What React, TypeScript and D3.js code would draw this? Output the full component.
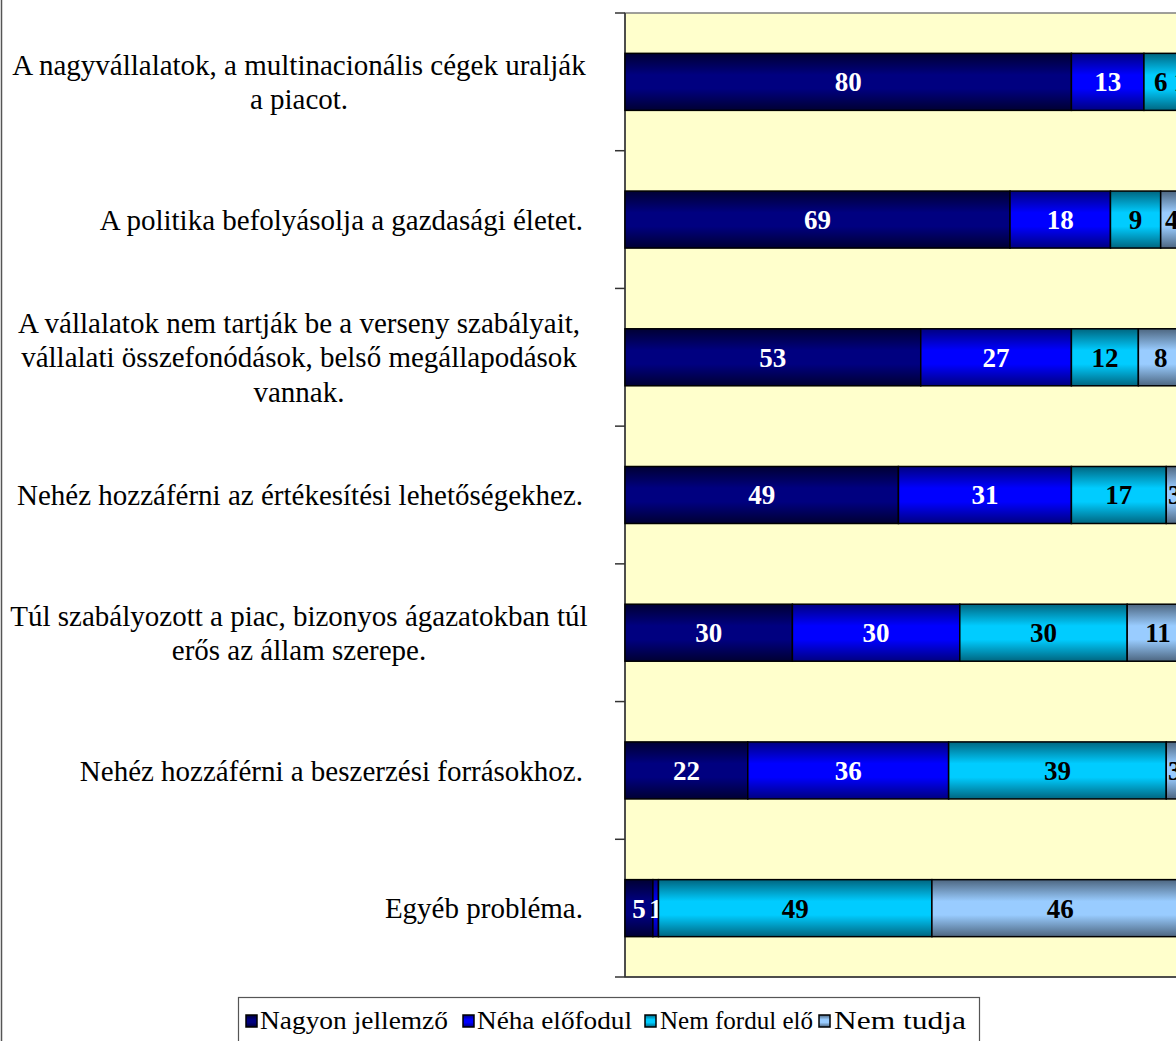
import React from "react";
import * as d3 from "d3";

const categories = [
  ["A nagyvállalatok, a multinacionális cégek uralják", "a piacot."],
  ["A politika befolyásolja a gazdasági életet."],
  ["A vállalatok nem tartják be a verseny szabályait,", "vállalati összefonódások, belső megállapodások", "vannak."],
  ["Nehéz hozzáférni az értékesítési lehetőségekhez."],
  ["Túl szabályozott a piac, bizonyos ágazatokban túl", "erős az állam szerepe."],
  ["Nehéz hozzáférni a beszerzési forrásokhoz."],
  ["Egyéb probléma."],
];

const seriesNames = ["Nagyon jellemző", "Néha előfodul", "Nem fordul elő", "Nem tudja"];
const nagyonJellemzo = [80, 69, 53, 49, 30, 22, 5];
const nehaElofordul = [13, 18, 27, 31, 30, 36, 1];
const nemFordulElo = [6, 9, 12, 17, 30, 39, 49];
const nemTudja = [1, 4, 8, 3, 11, 3, 46];

const seriesValues = [nagyonJellemzo, nehaElofordul, nemFordulElo, nemTudja];
const seriesColors = [
  { dark: "#000033", mid: "#000080" },
  { dark: "#000080", mid: "#0000FF" },
  { dark: "#006680", mid: "#00CCFF" },
  { dark: "#4D6680", mid: "#99CCFF" },
];
const labelColors = ["#FFFFFF", "#FFFFFF", "#000000", "#000000"];

const W = 1176;
const H = 1041;
const plotLeft = 625;
const plotRight = 1183;
const plotTop = 13;
const plotBottom = 977;

export default function App() {
  const x = d3.scaleLinear().domain([0, 100]).range([plotLeft, plotRight]);
  const idx = categories.map((_, i) => String(i));
  const y = d3
    .scaleBand<string>()
    .domain(idx)
    .range([plotTop, plotBottom])
    .paddingInner(0.586)
    .paddingOuter(0.293);
  const step = y.step();

  const stackData = categories.map((_, i) => {
    const row: Record<string, number> = {};
    seriesValues.forEach((s, k) => (row["s" + k] = s[i]));
    return row;
  });
  const stack = d3.stack<Record<string, number>>().keys(seriesValues.map((_, k) => "s" + k));
  const stacked = stack(stackData);

  const serif = "'Liberation Serif', 'Times New Roman', serif";

  const legendItems = [
    { sq: 246, tx: 260, w: 188 },
    { sq: 463, tx: 477, w: 155 },
    { sq: 645, tx: 660, w: 153 },
    { sq: 819, tx: 834, w: 132 },
  ];

  return (
    <svg
      width={W}
      height={H}
      style={{ position: "absolute", left: 0, top: 0, background: "#fff" }}
    >
      <defs>
        {seriesColors.map((c, k) => (
          <linearGradient key={k} id={"g" + k} x1="0" y1="0" x2="0" y2="1">
            <stop offset="0" stopColor={c.dark} />
            <stop offset="0.38" stopColor={c.mid} />
            <stop offset="0.62" stopColor={c.mid} />
            <stop offset="1" stopColor={c.dark} />
          </linearGradient>
        ))}
      </defs>
      <rect x={0} y={0} width={W} height={H} fill="#fff" />
      <line x1={1.5} y1={0} x2={1.5} y2={H} stroke="#555" strokeWidth={1.5} />

      <rect
        x={plotLeft}
        y={plotTop}
        width={plotRight - plotLeft}
        height={plotBottom - plotTop}
        fill="#FFFFCC"
        stroke="#808080"
        strokeWidth={1.5}
      />
      <line x1={plotLeft} y1={plotBottom} x2={plotRight} y2={plotBottom} stroke="#333" strokeWidth={1.5} />
      <line x1={plotLeft} y1={plotTop} x2={plotLeft} y2={plotBottom} stroke="#333" strokeWidth={1.5} />
      {d3.range(categories.length + 1).map((i) => (
        <line
          key={i}
          x1={615}
          x2={plotLeft}
          y1={plotTop + i * step}
          y2={plotTop + i * step}
          stroke="#333"
          strokeWidth={1.5}
        />
      ))}

      {stacked.map((layer, k) => (
        <g key={k}>
          {layer.map((d, i) => {
            const v = d[1] - d[0];
            if (v <= 0) return null;
            const x0 = x(d[0]);
            const x1 = x(d[1]);
            const yy = y(String(i))!;
            return (
              <g key={i}>
                <rect
                  x={x0}
                  y={yy}
                  width={x1 - x0}
                  height={y.bandwidth()}
                  fill={`url(#g${k})`}
                  stroke="#000"
                  strokeWidth={1.5}
                />
                <text
                  x={(x0 + x1) / 2}
                  y={yy + y.bandwidth() / 2}
                  dy="0.35em"
                  textAnchor="middle"
                  fontFamily={serif}
                  fontWeight="bold"
                  fontSize={27}
                  fill={labelColors[k]}
                >
                  {v}
                </text>
              </g>
            );
          })}
        </g>
      ))}

      {categories.map((lines, i) => {
        const cy = y(String(i))! + y.bandwidth() / 2;
        const lh = 34.5;
        const multi = lines.length > 1;
        return (
          <text
            key={i}
            fontFamily={serif}
            fontSize={29}
            fill="#000"
            textAnchor={multi ? "middle" : "end"}
          >
            {lines.map((ln, j) => (
              <tspan
                key={j}
                x={multi ? 299 : 583}
                y={cy + (j - (lines.length - 1) / 2) * lh}
                dy="0.35em"
              >
                {ln}
              </tspan>
            ))}
          </text>
        );
      })}

      <rect x={238.5} y={997.5} width={741} height={60} fill="#fff" stroke="#555" strokeWidth={1.2} />
      {legendItems.map((it, k) => (
        <g key={k}>
          <rect
            x={it.sq}
            y={1015}
            width={11}
            height={12}
            fill={`url(#g${k})`}
            stroke="#000"
            strokeWidth={1.5}
          />
          <text
            x={it.tx}
            y={1029}
            fontFamily={serif}
            fontSize={25}
            textLength={it.w}
            lengthAdjust="spacingAndGlyphs"
            fill="#000"
          >
            {seriesNames[k]}
          </text>
        </g>
      ))}
    </svg>
  );
}
